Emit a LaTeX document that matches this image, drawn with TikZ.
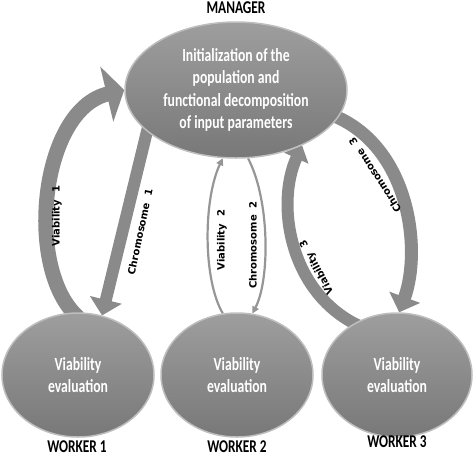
\documentclass[tikz,border=0pt]{standalone}
\usepackage{fontspec}
\setmainfont{Carlito}[FakeStretch=0.74]
\newfontfamily\tagfont{DejaVu Sans}
\usetikzlibrary{shapes.geometric,arrows.meta,backgrounds}
\definecolor{bandgray}{RGB}{140,140,140}
\definecolor{rimgray}{RGB}{190,190,190}
\definecolor{topgray}{RGB}{158,158,158}
\definecolor{lowgray}{RGB}{120,120,120}
\definecolor{arrowgray}{RGB}{138,138,138}
\definecolor{linegray}{RGB}{150,150,150}

\begin{document}
\begin{tikzpicture}[x=1pt,y=-1pt,
    blob/.style={ellipse, draw=rimgray, line width=1.5pt, top color=topgray,
        middle color=bandgray, bottom color=lowgray, text=white, align=center,
        inner sep=0pt, font=\bfseries\fontsize{18.5}{22.5}\selectfont},
    title/.style={font=\bfseries\fontsize{18}{20}\selectfont},
    tag/.style={font=\tagfont\bfseries\fontsize{10}{11}\selectfont, inner sep=0pt},
    fatarrow/.style={draw=arrowgray, line width=#1, shorten <=-8pt},
    thinarrow/.style={draw=linegray, line width=2.2pt}]
    \useasboundingbox (0,0) rectangle (474,464);

    % Manager
    \node[blob, minimum width=222pt, minimum height=136pt] (mgr) at (236,90)
        {Initialization of the\\population and\\functional decomposition\\of input parameters};
    \node[title] (mgrtitle) at (236,8) {MANAGER};

    % Workers
    \node[blob, minimum width=152pt, minimum height=124pt] (w1) at (78,375) {Viability\\evaluation};
    \node[blob, minimum width=152pt, minimum height=124pt] (w2) at (237,375) {Viability\\evaluation};
    \node[blob, minimum width=150pt, minimum height=124pt] (w3) at (397,375) {Viability\\evaluation};
    \node[title] (w1title) at (77,447) {WORKER 1};
    \node[title] (w2title) at (237,447) {WORKER 2};
    \node[title] (w3title) at (397,442) {WORKER 3};

    % Exchanges between manager and workers
    \begin{scope}[on background layer]
    \draw[fatarrow=15pt, -{Triangle[width=56pt,length=18pt]}]
        (w1.95) .. controls (24,270) and (40,110) .. (mgr.180);
    \draw[fatarrow=12pt, -{Triangle[width=32pt,length=16pt]}] (mgr.205) -- (w1.68);
    \draw[thinarrow, -{Triangle[width=7pt,length=7pt]}]
        (w2.103) .. controls (203,280) and (203,200) .. (mgr.259);
    \draw[thinarrow, -{Triangle[width=7pt,length=7pt]}]
        (mgr.280) .. controls (270,200) and (270,280) .. (w2.76);
    \draw[fatarrow=12pt, -{Triangle[width=26pt,length=14pt]}]
        (w3.130) .. controls (290,295) and (275,205) .. (mgr.320);
    \draw[fatarrow=13pt, -{Triangle[width=32pt,length=16pt]}]
        (mgr.345) .. controls (410,145) and (422,250) .. (w3.88);
    \end{scope}

    % Labels on the exchanges
    \node[tag, rotate=90] (v1) at (57,216) {Viability~~1};
    \node[tag, rotate=78] (c1) at (140,232) {Chromosome~~1};
    \node[tag, rotate=90] (v2) at (222,240) {Viability~~2};
    \node[tag, rotate=90] (c2) at (253,245) {Chromosome~~2};
    \node[tag, rotate=118] (v3) at (317,267) {Viability~~3};
    \node[tag, rotate=123] (c3) at (375,175) {Chromosome~~3};
\end{tikzpicture}
\end{document}
